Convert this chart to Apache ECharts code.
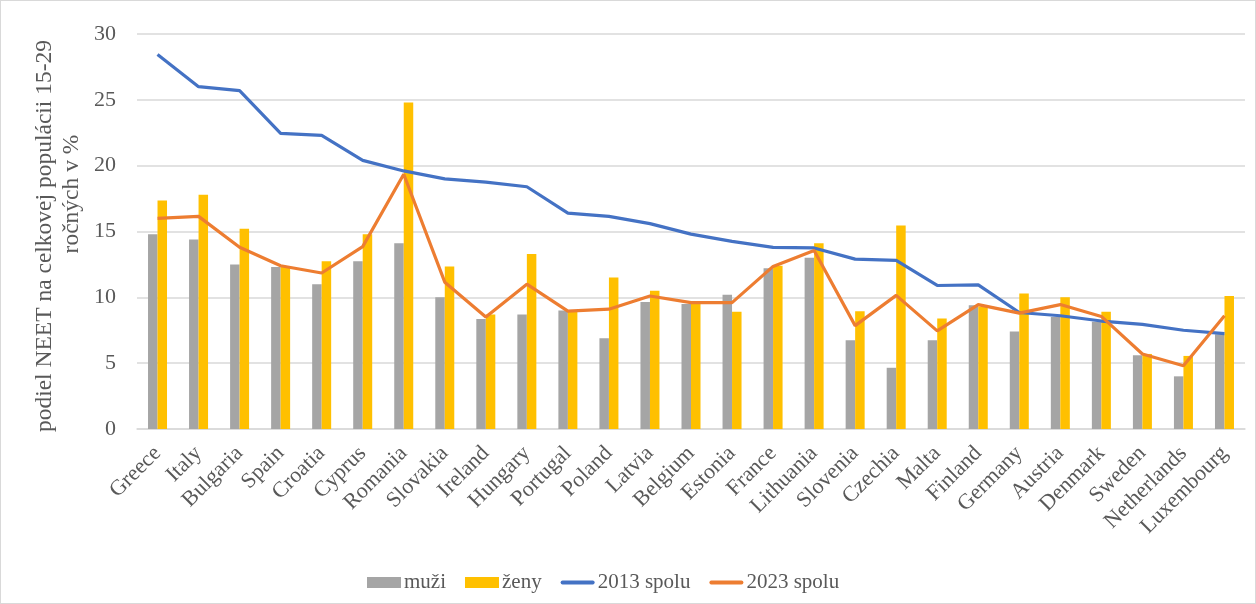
<!DOCTYPE html>
<html><head><meta charset="utf-8">
<script src="https://cdn.jsdelivr.net/npm/echarts@6/dist/echarts.min.js"></script>
<style>html,body{margin:0;padding:0;background:#fff}#c{width:1254px;height:602px;border:1px solid #d9d9d9}</style>
</head><body><div id="c"></div>
<script>
const categories = ["Greece","Italy","Bulgaria","Spain","Croatia","Cyprus","Romania","Slovakia","Ireland","Hungary","Portugal","Poland","Latvia","Belgium","Estonia","France","Lithuania","Slovenia","Czechia","Malta","Finland","Germany","Austria","Denmark","Sweden","Netherlands","Luxembourg"];
const muzi  = [14.8,14.4,12.5,12.3,11.0,12.75,14.1,10.0,8.35,8.7,9.0,6.9,9.65,9.5,10.2,12.2,13.0,6.75,4.65,6.75,9.4,7.4,8.5,8.15,5.6,4.0,7.2];
const zeny  = [17.35,17.8,15.2,12.3,12.75,14.8,24.8,12.35,8.7,13.3,8.9,11.5,10.5,9.6,8.9,12.4,14.1,8.95,15.45,8.4,9.3,10.3,10.0,8.9,5.7,5.55,10.1];
const s2013 = [28.45,26.0,25.7,22.45,22.3,20.4,19.6,19.0,18.75,18.4,16.4,16.15,15.6,14.8,14.25,13.8,13.75,12.9,12.8,10.9,10.95,8.85,8.6,8.2,7.95,7.5,7.25];
const s2023 = [16.0,16.15,13.8,12.4,11.85,13.85,19.35,11.15,8.5,11.0,8.95,9.1,10.1,9.6,9.6,12.35,13.55,7.85,10.15,7.45,9.45,8.8,9.45,8.55,5.7,4.8,8.6];
const yTicks = [0,5,10,15,20,25,30];
const yTitle1 = 'podiel NEET na celkovej populácii 15-29';
const yTitle2 = 'ročných v %';

const F = "'Liberation Serif','Times New Roman',serif";
const lineIcon = 'path://M2,0h32a2,2 0 0 1 0,4h-32a2,2 0 0 1 0,-4z';
const chart = echarts.init(document.getElementById('c'));
chart.setOption({
  animation:false,
  textStyle:{fontFamily:F},
  grid:{left:136,right:10,top:33,bottom:174,containLabel:false},
  graphic:[
    {type:'text',x:44,y:235,rotation:Math.PI/2,style:{text:yTitle1,font:"23.5px 'Liberation Serif'",fill:'#595959',align:'center',verticalAlign:'middle'}},
    {type:'text',x:71,y:193,rotation:Math.PI/2,style:{text:yTitle2,font:"23.5px 'Liberation Serif'",fill:'#595959',align:'center',verticalAlign:'middle'}}
  ],
  legend:{
    top:566, left:361, itemGap:19, itemWidth:34, itemHeight:11,
    textStyle:{fontFamily:F,fontSize:21,color:'#595959',padding:[0,0,0,-2]},
    data:[{name:'muži',icon:'rect'},{name:'ženy',icon:'rect'},{name:'2013 spolu',icon:lineIcon},{name:'2023 spolu',icon:lineIcon}]
  },
  xAxis:{
    type:'category', data:categories,
    axisLine:{lineStyle:{color:'#d9d9d9',width:1.5}},
    axisTick:{show:false},
    axisLabel:{rotate:45, interval:0, fontFamily:F, fontSize:22, color:'#595959', margin:21}
  },
  yAxis:{
    type:'value', min:yTicks[0], max:yTicks[yTicks.length-1], interval:5,
    axisLine:{show:false}, axisTick:{show:false},
    axisLabel:{fontFamily:F,fontSize:22,color:'#595959',margin:21},
    splitLine:{lineStyle:{color:'#d9d9d9',width:1.5}}
  },
  series:[
    {name:'muži',type:'bar',data:muzi,barWidth:9.5,barGap:'0%',itemStyle:{color:'#A5A5A5'}},
    {name:'ženy',type:'bar',data:zeny,barWidth:9.5,barGap:'0%',itemStyle:{color:'#FFC000'}},
    {name:'2013 spolu',type:'line',data:s2013,symbol:'none',lineStyle:{color:'#4472C4',width:3.2},itemStyle:{color:'#4472C4'}},
    {name:'2023 spolu',type:'line',data:s2023,symbol:'none',lineStyle:{color:'#ED7D31',width:3.2},itemStyle:{color:'#ED7D31'}}
  ]
});
</script></body></html>
